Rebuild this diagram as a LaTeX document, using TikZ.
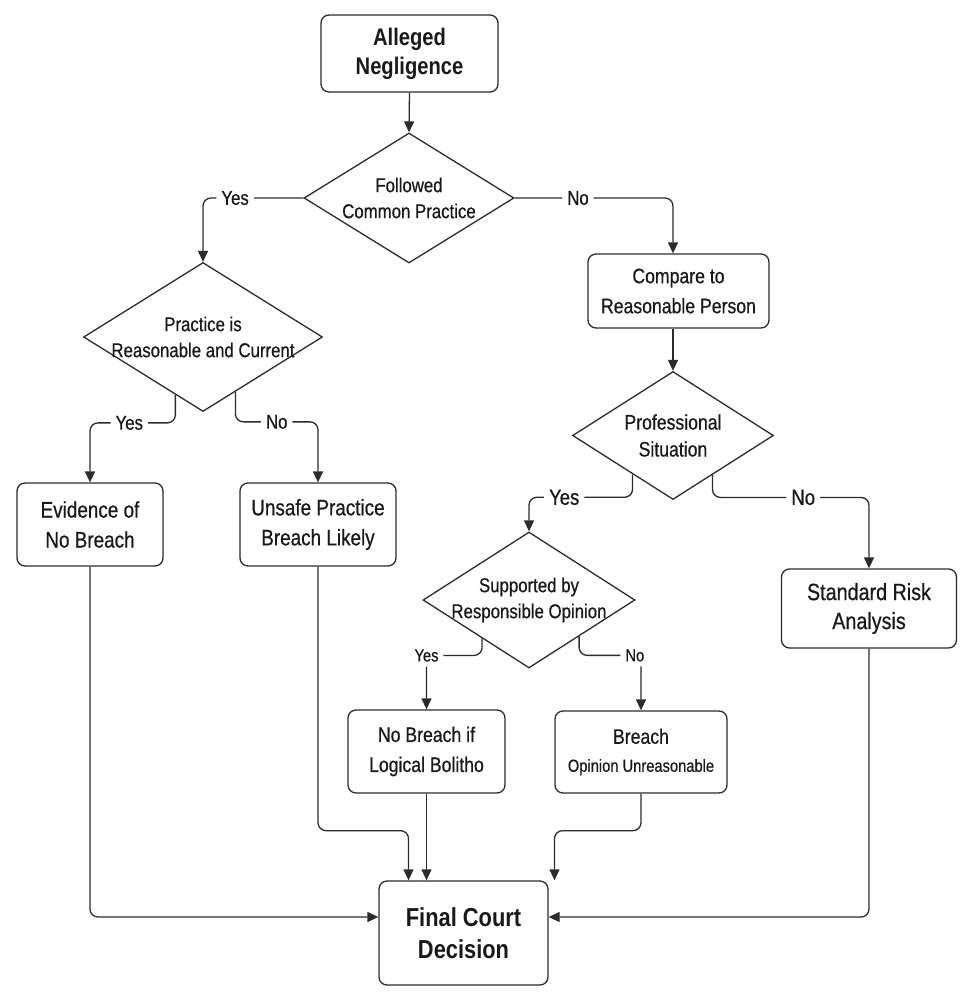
\documentclass[tikz,border=0pt]{standalone}
\usepackage{fontspec}
\setmainfont{Liberation Sans}[FakeStretch=0.84]
\newfontfamily\medfont{Liberation Sans}[FakeStretch=0.84, FakeBold=0.6]
\usetikzlibrary{shapes.geometric, arrows.meta, calc}

\definecolor{ink}{HTML}{2B2B2B}

\tikzset{
	box/.style = {draw = ink, line width = 1.3pt, rounded corners = 8pt, align = center, inner sep = 0pt, text = black!90, font = \medfont\fontsize{21}{30}\selectfont},
	bigbox/.style = {box, font = \medfont\fontsize{22.5}{30}\selectfont},
	decision/.style = {diamond, draw = ink, line width = 1.3pt, inner sep = 0pt},
	dtext/.style = {align = center, inner sep = 0pt, text = black!90, font = \medfont\fontsize{20}{26}\selectfont},
	flow/.style = {draw = ink, line width = 1.3pt, rounded corners = 8pt, -{Triangle[length = 11pt, width = 10pt]}},
	lbl/.style = {fill = white, inner sep = 5pt, text = black!90, font = \medfont\fontsize{20}{20}\selectfont}
}

\begin{document}
\begin{tikzpicture}[x = 1pt, y = -1pt]

	\useasboundingbox (0, 0) rectangle (972, 1002);

	% Start and end boxes
	
	\node [box, minimum width = 177pt, minimum height = 77pt, font = \fontsize{24}{29}\selectfont\bfseries] (alleged) at (409.5, 53.5) {Alleged\\Negligence};
	\node [box, minimum width = 169pt, minimum height = 104pt, font = \fontsize{26}{32}\selectfont\bfseries] (final) at (463.5, 933) {Final Court\\Decision};
	
	% Decisions
	
	\node [decision, minimum width = 210pt, minimum height = 130pt, label = {[dtext]center:{Followed\\Common Practice}}] (common) at (409, 198) {};
	\node [decision, minimum width = 239pt, minimum height = 149pt, label = {[dtext]center:{Practice is\\Reasonable and Current}}] (current) at (203, 337) {};
	\node [decision, minimum width = 201pt, minimum height = 128pt, label = {[dtext, font = \medfont\fontsize{21}{27}\selectfont]center:{Professional\\Situation}}] (situation) at (673, 435.5) {};
	\node [decision, minimum width = 212pt, minimum height = 136pt, label = {[dtext]center:{Supported by\\Responsible Opinion}}] (opinion) at (529, 600) {};
	
	% Outcome boxes
	
	\node [box, minimum width = 181pt, minimum height = 74pt] (compare) at (678.5, 291) {Compare to\\Reasonable Person};
	\node [bigbox, minimum width = 146pt, minimum height = 83pt] (evidence) at (90, 524.5) {Evidence of\\No Breach};
	\node [bigbox, minimum width = 156pt, minimum height = 83pt] (unsafe) at (318, 524.5) {Unsafe Practice\\Breach Likely};
	\node [bigbox, minimum width = 175pt, minimum height = 79pt, font = \medfont\fontsize{23.5}{29}\selectfont] (standard) at (869, 608.5) {Standard Risk\\Analysis};
	\node [box, minimum width = 157pt, minimum height = 83pt] (nobreach) at (426.5, 751.5) {No Breach if\\Logical Bolitho};
	\node [box, minimum width = 172pt, minimum height = 82pt] (breach) at (641, 752) {Breach\\[-2pt]{\fontsize{17.5}{22}\selectfont Opinion Unreasonable}};
	
	% Upper branches
	
	\draw [flow] (alleged.south) -- (common.north);
	\draw [flow] (common.west) -| node [lbl, pos = 0.34] {Yes} (current.north);
	\draw [flow] (common.east) -| node [lbl, pos = 0.2] {No} (situation.north |- compare.north);
	\draw [flow] (situation.north |- compare.south) -- (situation.north);
	
	\draw [flow] ($(current.west)!0.77!(current.south)$) -- ++(0, 28) -| node [lbl, pos = 0.27] {Yes} (evidence.north);
	\draw [flow] ($(current.east)!0.73!(current.south)$) -- ++(0, 30) -| node [lbl, pos = 0.25] {No} (unsafe.north);
	
	% Professional branches
	
	\begin{scope}[lbl/.append style = {font = \medfont\fontsize{22}{22}\selectfont}]
	
		\draw [flow] ($(situation.west)!0.6!(situation.south)$) -- ++(0, 23) -| node [lbl, pos = 0.33] {Yes} (opinion.north);
		\draw [flow] ($(situation.east)!0.61!(situation.south)$) -- ++(0, 22.5) -| node [lbl, pos = 0.29] {No} (standard.north);
		
	\end{scope}
	
	\begin{scope}[lbl/.append style = {font = \medfont\fontsize{17.5}{17.5}\selectfont}]
	
		\draw [flow] ($(opinion.west)!0.56!(opinion.south)$) -- ++(0, 17) -| node [lbl, pos = 0.5] {Yes} (nobreach.north);
		\draw [flow] ($(opinion.east)!0.53!(opinion.south)$) -- ++(0, 19) -| node [lbl, pos = 0.45] {No} (breach.north);
		
	\end{scope}
	
	% Into the court decision
	
	\draw [flow] (evidence.south) |- ([yshift = 16pt]final.west);
	\draw [flow] (standard.south) |- ([yshift = 16pt]final.east);
	\draw [flow] (unsafe.south) -- ++(0, 264) -| ([xshift = -55pt]final.north);
	\draw [flow] (nobreach.south) -- (nobreach.south |- final.north);
	\draw [flow] (breach.south) -- ++(0, 37) -| ([xshift = 91pt]final.north);

\end{tikzpicture}
\end{document}
